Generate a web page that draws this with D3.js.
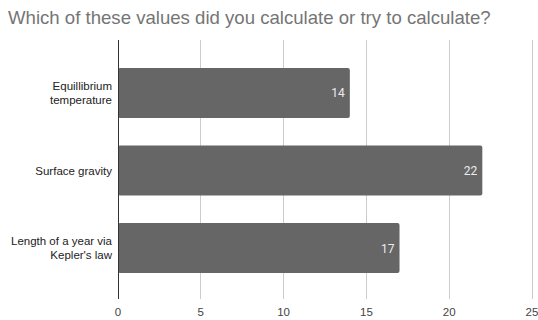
<!DOCTYPE html>
<html><head><meta charset="utf-8">
<script src="https://cdn.jsdelivr.net/npm/d3@7"></script>
<style>body{margin:0;background:#fff}svg{display:block}</style>
</head><body><svg id="c" width="538" height="320"></svg>
<script>
const title = "Which of these values did you calculate or try to calculate?";
const categories = [["Equillibrium","temperature"],["Surface gravity"],["Length of a year via","Kepler's law"]];
const values = [14, 22, 17];
const xTicks = [0, 5, 10, 15, 20, 25];

const svg = d3.select("#c");
const mLeft = 118, mRight = 532, mTop = 40, mBottom = 299;
const x = d3.scaleLinear().domain([0, 25]).range([mLeft, mRight]);
const y = d3.scaleBand().domain(d3.range(values.length)).range([mTop, 301]).paddingInner(0.355).paddingOuter(0.36);

svg.append("text").attr("x", 8).attr("y", 24).attr("fill", "#757575")
  .attr("font-family", "Liberation Sans, Arial, sans-serif").attr("font-size", 18.6).text(title);

// gridlines
svg.append("g").selectAll("line").data(xTicks.filter(d => d !== 0)).join("line")
  .attr("x1", d => x(d)).attr("x2", d => x(d)).attr("y1", mTop).attr("y2", mBottom)
  .attr("stroke", "#cccccc").attr("stroke-width", 1).attr("shape-rendering", "crispEdges");

// bars
svg.append("g").selectAll("rect").data(values).join("rect")
  .attr("x", x(0)).attr("y", (d, i) => y(i)).attr("width", d => x(d) - x(0)).attr("height", y.bandwidth())
  .attr("rx", 2).attr("fill", "#666666");

// axis line
svg.append("line").attr("x1", x(0)).attr("x2", x(0)).attr("y1", mTop).attr("y2", mBottom)
  .attr("stroke", "#333333").attr("stroke-width", 1).attr("shape-rendering", "crispEdges");

// value labels
svg.append("g").selectAll("text").data(values).join("text")
  .attr("x", d => x(d) - 5).attr("y", (d, i) => y(i) + y.bandwidth() / 2 + 4.5)
  .attr("text-anchor", "end").attr("fill", "#ececec")
  .attr("font-family", "Roboto, sans-serif").attr("font-size", 12).text(d => d);

// category labels
const cg = svg.append("g");
categories.forEach((lines, i) => {
  const cy = y(i) + y.bandwidth() / 2;
  const lh = 14;
  const t = cg.append("text").attr("text-anchor", "end").attr("fill", "#222222")
    .attr("font-family", "Liberation Sans, Arial, sans-serif").attr("font-size", 11.5);
  lines.forEach((s, j) => {
    t.append("tspan").attr("x", 112).attr("y", cy + 4 + (j - (lines.length - 1) / 2) * lh).text(s);
  });
});

// x tick labels
svg.append("g").selectAll("text").data(xTicks).join("text")
  .attr("x", d => x(d)).attr("y", 316).attr("text-anchor", "middle").attr("fill", "#444444")
  .attr("font-family", "Liberation Sans, Arial, sans-serif").attr("font-size", 11.5).text(d => d);
</script></body></html>
